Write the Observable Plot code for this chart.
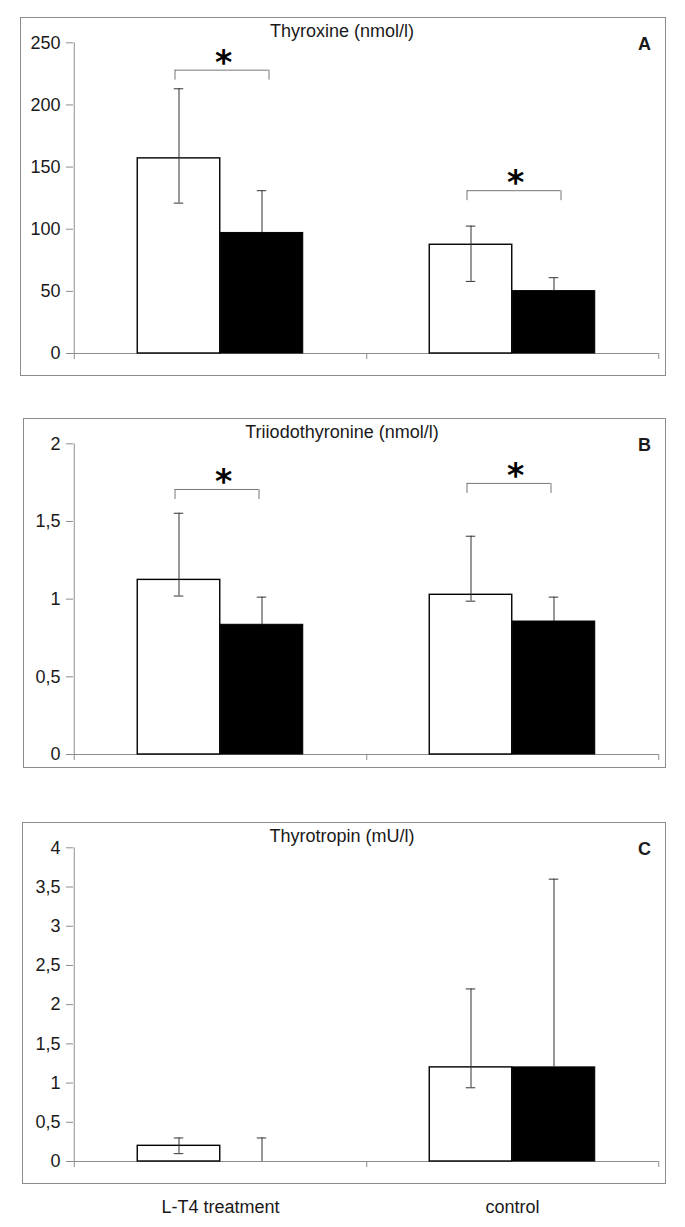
<!DOCTYPE html>
<html>
<head>
<meta charset="utf-8">
<script src="https://cdn.jsdelivr.net/npm/d3@7"></script>
<script src="https://cdn.jsdelivr.net/npm/@observablehq/plot@0.6"></script>
<style>
  body { margin: 0; background: #fff; }
  #page { position: relative; width: 685px; height: 1227px; font-family: "Liberation Sans", Arial, sans-serif; color: #1a1a1a; overflow: hidden; }
  .box { position: absolute; border: 1px solid #8c8c8c; box-sizing: border-box; }
  .title { position: absolute; font-size: 18px; line-height: 1; white-space: nowrap; transform: translateX(-50%); }
  .letter { position: absolute; font-size: 18px; font-weight: bold; line-height: 1; }
  .plot { position: absolute; left: 0; }
</style>
</head>
<body>
<div id="page"></div>
<script>
// ---- data ----
const groups = ["L-T4 treatment", "control"];

// Panel A: Thyroxine (nmol/l)
const aWhite   = [157, 87.5];
const aWhiteLo = [121, 58];
const aWhiteHi = [213, 102.5];
const aBlack   = [97, 50.2];
const aBlackHi = [131, 61];
const aBracket = [228, 131];
const aTicks   = [0, 50, 100, 150, 200, 250];

// Panel B: Triiodothyronine (nmol/l)
const bWhite   = [1.124, 1.028];
const bWhiteLo = [1.02, 0.987];
const bWhiteHi = [1.553, 1.405];
const bBlack   = [0.835, 0.856];
const bBlackHi = [1.013, 1.013];
const bBracket = [1.706, 1.745];
const bTicks   = [0, 0.5, 1, 1.5, 2];

// Panel C: Thyrotropin (mU/l)
const cWhite   = [0.2, 1.2];
const cWhiteLo = [0.1, 0.94];
const cWhiteHi = [0.3, 2.2];
const cBlack   = [0, 1.2];
const cBlackHi = [0.3, 3.6];
const cBracket = [];
const cTicks   = [0, 0.5, 1, 1.5, 2, 2.5, 3, 3.5, 4];

// ---- layout ----
const W = 685, ML = 73, MR = 27;
const BW = (W - ML - MR) / 2;   // band width
const BARW = 83;                 // bar width
const OFF = BARW / 2;            // bar centre offset from group centre
const fmt = d => String(d).replace(".", ",");
const page = document.getElementById("page");

const panels = [
  {title: "Thyroxine (nmol/l)", letter: "A", white: aWhite, whiteLo: aWhiteLo, whiteHi: aWhiteHi,
   black: aBlack, blackHi: aBlackHi, bracket: aBracket, ticks: aTicks,
   box: {left: 20, top: 17, right: 666, bottom: 376}, mt: 25.3, mb: 23, ext: 7},
  {title: "Triiodothyronine (nmol/l)", letter: "B", white: bWhite, whiteLo: bWhiteLo, whiteHi: bWhiteHi,
   black: bBlack, blackHi: bBlackHi, bracket: bBracket, ticks: bTicks,
   box: {left: 23, top: 418, right: 666, bottom: 768}, mt: 25.3, mb: 14, ext: -3},
  {title: "Thyrotropin (mU/l)", letter: "C", white: cWhite, whiteLo: cWhiteLo, whiteHi: cWhiteHi,
   black: cBlack, blackHi: cBlackHi, bracket: cBracket, ticks: cTicks,
   box: {left: 22, top: 822, right: 666, bottom: 1184}, mt: 25.3, mb: 66, ext: 0, xAxis: true}
];

for (const p of panels) {
  const whiteRows = groups.map((g, i) => ({group: g, value: p.white[i], lo: p.whiteLo[i], hi: p.whiteHi[i]}));
  const blackRows = groups.map((g, i) => ({group: g, value: p.black[i], hi: p.blackHi[i]}));
  const bracketRows = p.bracket.map((b, i) => ({group: groups[i], y: b}));
  const yMax = p.ticks[p.ticks.length - 1];
  const height = p.xAxis ? 1227 - p.box.top : p.box.bottom - p.box.top;

  const box = document.createElement("div");
  box.className = "box";
  Object.assign(box.style, {left: p.box.left + "px", top: p.box.top + "px",
    width: (p.box.right - p.box.left) + "px", height: (p.box.bottom - p.box.top) + "px"});
  page.appendChild(box);

  const marks = [
    // x axis baseline and ticks at category boundaries
    Plot.ruleY([0], {stroke: "#8c8c8c"}),
    Plot.ruleX([groups[0]], {x: d => d, y1: 0, y2: 0, insetTop: 6, dx: -BW / 2, stroke: "#8c8c8c"}),
    Plot.ruleX(groups, {x: d => d, y1: 0, y2: 0, insetTop: 6, dx: BW / 2, stroke: "#8c8c8c"}),
    // y axis line
    Plot.ruleX([groups[0]], {x: d => d, y1: 0, y2: yMax, dx: -BW / 2, stroke: "#8c8c8c"}),
    Plot.axisY({ticks: p.ticks, tickFormat: fmt, tickSize: 7, tickPadding: 6, stroke: "#8c8c8c", fill: "#1a1a1a", label: null, fontSize: 18}),
    // bars
    Plot.barY(whiteRows, {x: "group", y: "value", fill: "white", stroke: "black", strokeWidth: 1.4,
      insetLeft: BW / 2 - BARW, insetRight: BW / 2}),
    Plot.barY(blackRows, {x: "group", y: "value", fill: "black", stroke: "black", strokeWidth: 1,
      insetLeft: BW / 2, insetRight: BW / 2 - BARW}),
    // error bars
    Plot.ruleX(whiteRows, {x: "group", y1: "lo", y2: "hi", dx: -OFF, stroke: "#333", strokeWidth: 1}),
    Plot.tickY(whiteRows, {x: "group", y: "hi", dx: -OFF, insetLeft: BW / 2 - 5, insetRight: BW / 2 - 5, stroke: "#333"}),
    Plot.tickY(whiteRows, {x: "group", y: "lo", dx: -OFF, insetLeft: BW / 2 - 5, insetRight: BW / 2 - 5, stroke: "#333"}),
    Plot.ruleX(blackRows, {x: "group", y1: "value", y2: "hi", dx: OFF, stroke: "#333", strokeWidth: 1}),
    Plot.tickY(blackRows, {x: "group", y: "hi", dx: OFF, insetLeft: BW / 2 - 5, insetRight: BW / 2 - 5, stroke: "#333"}),
    // significance brackets
    Plot.tickY(bracketRows, {x: "group", y: "y", insetLeft: BW / 2 - OFF - 4, insetRight: BW / 2 - OFF - p.ext, stroke: "#777"}),
    Plot.ruleX(bracketRows, {x: "group", y1: "y", y2: "y", insetTop: 10, dx: -OFF - 4, stroke: "#777"}),
    Plot.ruleX(bracketRows, {x: "group", y1: "y", y2: "y", insetTop: 10, dx: OFF + p.ext, stroke: "#777"}),
    Plot.text(bracketRows, {x: "group", y: "y", text: () => "*", dx: 3, dy: -7, fontSize: 33,
      fontWeight: "bold", fontFamily: "DejaVu Sans", fill: "black"})
  ];
  if (p.xAxis) {
    marks.push(Plot.axisX({tickSize: 0, tickPadding: 39, fontSize: 18, fill: "#1a1a1a", label: null}));
  }

  const chart = Plot.plot({
    width: W,
    height,
    marginLeft: ML,
    marginRight: MR,
    marginTop: p.mt,
    marginBottom: p.mb,
    style: {fontFamily: "Liberation Sans, Arial, sans-serif", fontSize: "18px", background: "transparent", overflow: "visible"},
    x: {domain: groups, padding: 0, axis: null, label: null},
    y: {domain: [0, yMax], axis: null},
    marks
  });
  chart.classList.add("plot");
  chart.style.top = p.box.top + "px";
  page.appendChild(chart);

  const t = document.createElement("div");
  t.className = "title";
  t.textContent = p.title;
  t.style.left = "342px";
  t.style.top = (p.box.top + 20 - 15.2) + "px";
  page.appendChild(t);

  const l = document.createElement("div");
  l.className = "letter";
  l.textContent = p.letter;
  l.style.right = (W - 651) + "px";
  l.style.top = (p.box.top + 33 - 15.2) + "px";
  page.appendChild(l);
}
</script>
</body>
</html>
